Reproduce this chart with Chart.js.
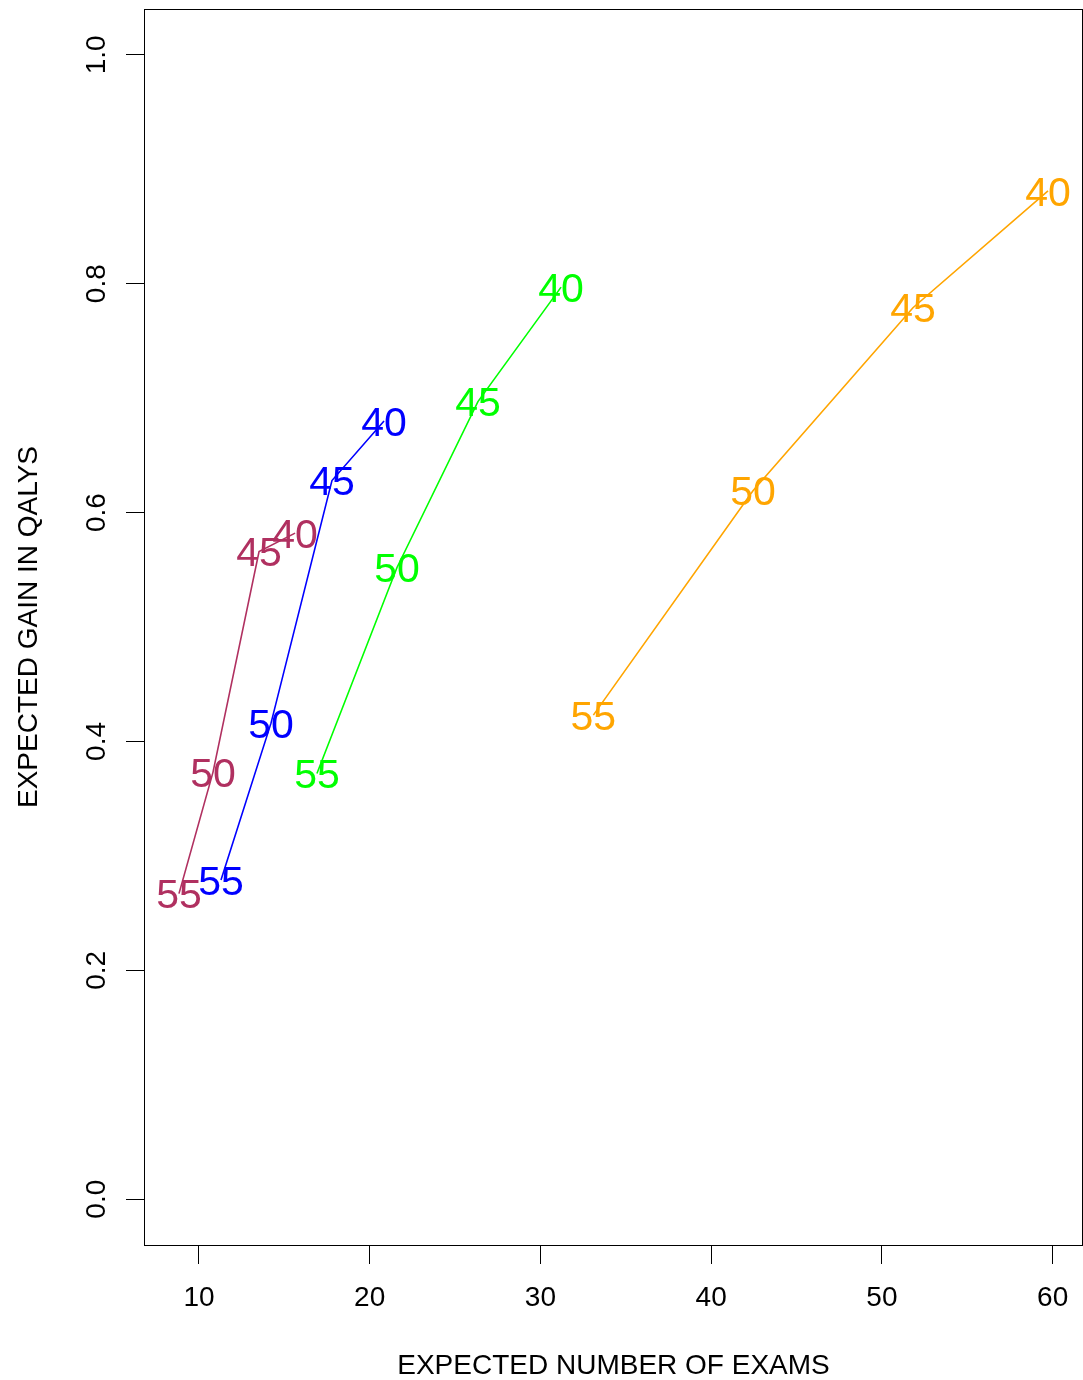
<!DOCTYPE html>
<html><head><meta charset="utf-8">
<script src="https://cdn.jsdelivr.net/npm/chart.js@4"></script>
<style>html,body{margin:0;padding:0;background:#fff;} canvas{display:block;}</style>
</head><body>
<canvas id="c" width="1083" height="1380"></canvas>
<script>
// ---- data ----
const ageLabels = ["55", "50", "45", "40"];
const maroonX = [8.83, 10.82, 13.52, 15.63];
const maroonY = [0.267, 0.373, 0.566, 0.582];
const blueX = [11.29, 14.22, 17.79, 20.84];
const blueY = [0.279, 0.416, 0.628, 0.680];
const greenX = [16.91, 21.60, 26.34, 31.21];
const greenY = [0.372, 0.552, 0.697, 0.797];
const orangeX = [33.1, 42.45, 51.82, 59.73];
const orangeY = [0.423, 0.619, 0.779, 0.881];
const seriesColors = ["#B03060", "#0000FF", "#00FF00", "#FFA500"];
const xTicks = [10, 20, 30, 40, 50, 60];
const xTickLabels = ["10", "20", "30", "40", "50", "60"];
const yTicks = [0.0, 0.2, 0.4, 0.6, 0.8, 1.0];
const yTickLabels = ["0.0", "0.2", "0.4", "0.6", "0.8", "1.0"];
const xTitle = "EXPECTED NUMBER OF EXAMS";
const yTitle = "EXPECTED GAIN IN QALYS";

const FONT = '"Liberation Sans", Arial, sans-serif';
const LABEL_PX = 41;
const seriesX = [maroonX, blueX, greenX, orangeX];
const seriesY = [maroonY, blueY, greenY, orangeY];

const datasets = seriesX.map((xs, i) => ({
  data: xs.map((x, j) => ({x: x, y: seriesY[i][j]})),
  showLine: true,
  borderColor: seriesColors[i],
  backgroundColor: seriesColors[i],
  borderWidth: 1.6,
  pointRadius: 0,
  tension: 0
}));

const rPlot = {
  id: 'rplot',
  afterDatasetsDraw(chart) {
    const ctx = chart.ctx;
    const xs = chart.scales.x, ys = chart.scales.y;
    ctx.save();
    ctx.font = LABEL_PX + 'px ' + FONT;
    ctx.textAlign = 'center';
    ctx.textBaseline = 'alphabetic';
    seriesX.forEach((arr, i) => {
      ctx.fillStyle = seriesColors[i];
      arr.forEach((x, j) => {
        const px = xs.getPixelForValue(x);
        const py = ys.getPixelForValue(seriesY[i][j]);
        ctx.fillText(ageLabels[j], px, py + 0.358 * LABEL_PX);
      });
    });
    ctx.restore();
  },
  afterDraw(chart) {
    const ctx = chart.ctx;
    const ca = chart.chartArea;
    const xs = chart.scales.x, ys = chart.scales.y;
    ctx.save();
    ctx.strokeStyle = '#000';
    ctx.lineWidth = 1;
    ctx.strokeRect(ca.left - 0.5, ca.top + 0.5, ca.right - ca.left + 1, ca.bottom - ca.top);
    ctx.fillStyle = '#000';
    ctx.font = '28px ' + FONT;
    ctx.textAlign = 'center';
    ctx.textBaseline = 'alphabetic';
    xTicks.forEach((v, i) => {
      ctx.fillText(xTickLabels[i], xs.getPixelForValue(v), 1306);
    });
    yTicks.forEach((v, i) => {
      ctx.save();
      ctx.translate(105, ys.getPixelForValue(v));
      ctx.rotate(-Math.PI / 2);
      ctx.fillText(yTickLabels[i], 0, 0);
      ctx.restore();
    });
    ctx.fillText(xTitle, (ca.left + ca.right) / 2, 1374);
    ctx.save();
    ctx.translate(37, (ca.top + ca.bottom) / 2);
    ctx.rotate(-Math.PI / 2);
    ctx.fillText(yTitle, 0, 0);
    ctx.restore();
    ctx.restore();
  }
};

new Chart(document.getElementById('c'), {
  type: 'scatter',
  data: {datasets: datasets},
  options: {
    responsive: false,
    animation: false,
    devicePixelRatio: 1,
    layout: {padding: {top: 9, right: 1, left: 0, bottom: 0}},
    plugins: {legend: {display: false}, tooltip: {enabled: false}},
    scales: {
      x: {
        type: 'linear', min: 6.84, max: 61.72,
        afterBuildTicks: s => { s.ticks = xTicks.map(v => ({value: v})); },
        afterFit: s => { s.height = 135; },
        ticks: {display: false},
        grid: {drawOnChartArea: false, drawTicks: true, tickLength: 19, color: '#000', lineWidth: 1},
        border: {display: false}
      },
      y: {
        type: 'linear', min: -0.04, max: 1.04,
        afterBuildTicks: s => { s.ticks = yTicks.map(v => ({value: v})); },
        afterFit: s => { s.width = 145; },
        ticks: {display: false},
        grid: {drawOnChartArea: false, drawTicks: true, tickLength: 19, color: '#000', lineWidth: 1},
        border: {display: false}
      }
    }
  },
  plugins: [rPlot]
});
</script>
</body></html>
